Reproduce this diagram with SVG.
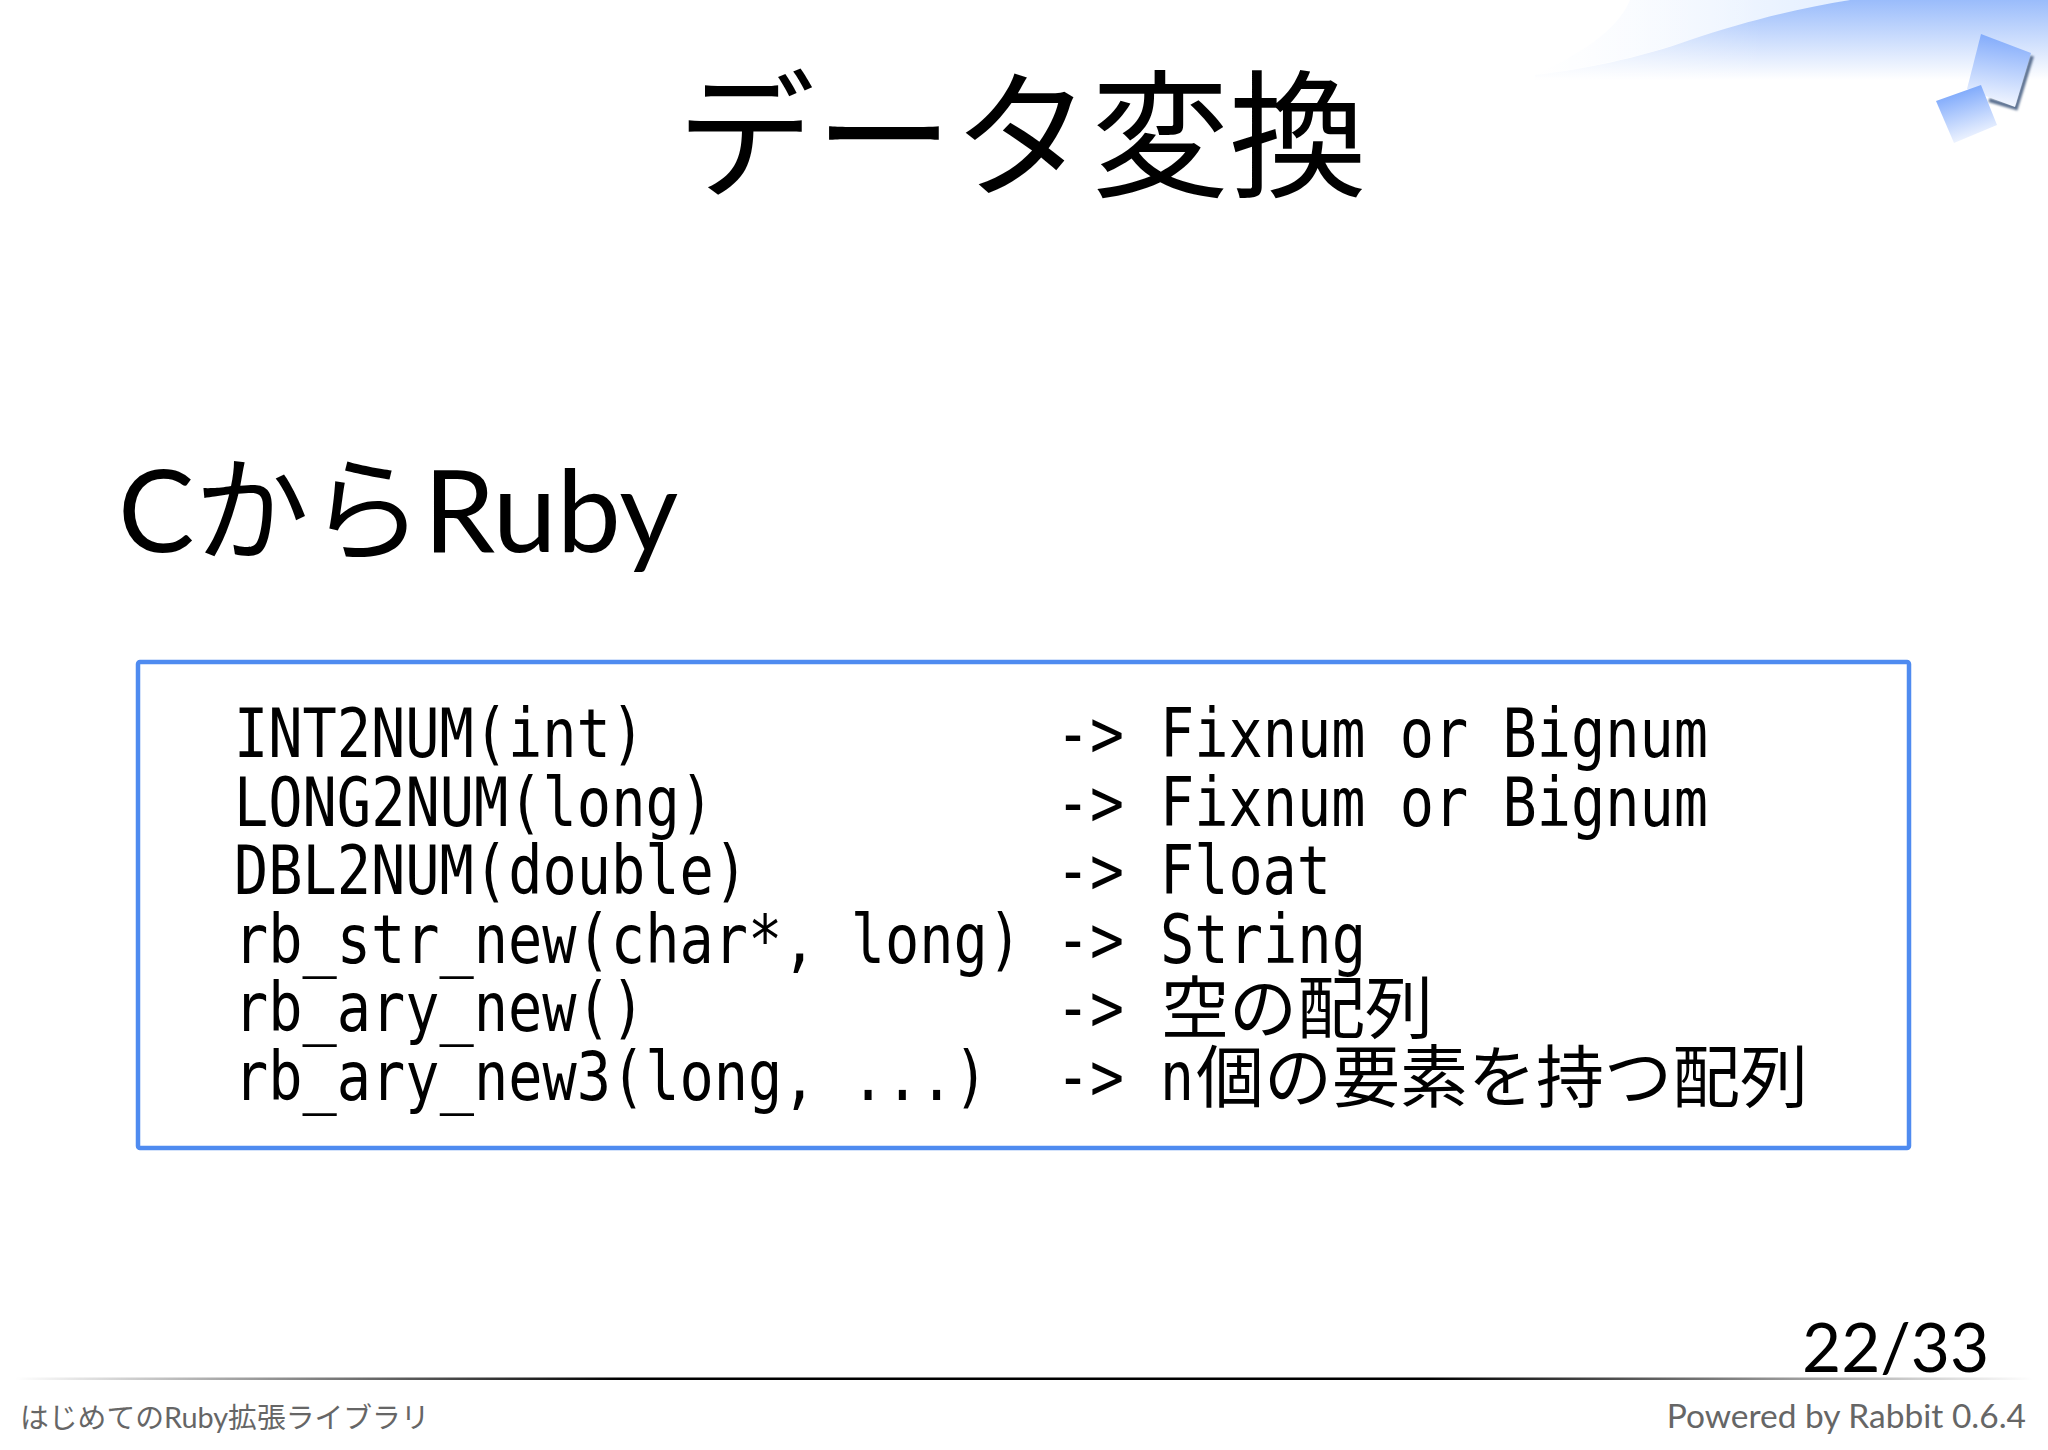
<svg xmlns="http://www.w3.org/2000/svg" width="2048" height="1450" viewBox="0 0 2048 1450">
<style>
.t{font-family:"Noto Sans CJK JP","Noto Sans",sans-serif;fill:#000}
.l{font-family:"Lato","Noto Sans CJK JP",sans-serif;fill:#000}
.c{font-family:"DejaVu Sans Mono","Noto Sans CJK JP",monospace;font-size:68px;fill:#000}
.j{font-family:"Noto Sans CJK JP",sans-serif;font-size:68px;fill:#000}
.f{font-family:"Lato","Noto Sans CJK JP",sans-serif;font-size:28.8px;fill:#666}
.p{font-family:"Lato",sans-serif;font-size:33.5px;fill:#666}
</style>
<defs>
<linearGradient id="sky" x1="0" y1="0" x2="0" y2="1"><stop offset="0" stop-color="#9abcfb"/><stop offset="1" stop-color="#fff"/></linearGradient>
<linearGradient id="fade" x1="0" y1="0" x2="1" y2="0"><stop offset="0" stop-color="#fff" stop-opacity="1"/><stop offset="0.45" stop-color="#fff" stop-opacity="0"/></linearGradient>
<linearGradient id="pale" x1="0" y1="0" x2="1" y2="0"><stop offset="0" stop-color="#fff"/><stop offset="1" stop-color="#e4efff"/></linearGradient>
<linearGradient id="sqa" x1="0.55" y1="0" x2="0.45" y2="1"><stop offset="0" stop-color="#7fa9fb"/><stop offset="1" stop-color="#f6f9ff"/></linearGradient>
<linearGradient id="sqb" x1="0.35" y1="0.05" x2="0.65" y2="1"><stop offset="0" stop-color="#78a5fb"/><stop offset="1" stop-color="#fbfcff"/></linearGradient>
<linearGradient id="rule" x1="0" y1="0" x2="1" y2="0"><stop offset="0" stop-color="#000" stop-opacity="0"/><stop offset="0.3" stop-color="#000"/><stop offset="0.7" stop-color="#000"/><stop offset="1" stop-color="#000" stop-opacity="0"/></linearGradient>
<filter id="b1" x="-20%" y="-20%" width="140%" height="140%"><feGaussianBlur stdDeviation="1.2"/></filter>
</defs>
<rect width="2048" height="1450" fill="#fff"/>
<g id="background">
<path d="M1630 0H1850C1760 18 1700 38 1640 55 1600 65 1570 70 1535 75 1590 50 1620 25 1630 0Z" fill="url(#pale)"/>
<path d="M1535 75C1580 70 1640 58 1690 40 1750 20 1800 8 1850 0H2048V80H1535Z" fill="url(#sky)"/>
<rect x="1530" y="0" width="518" height="80" fill="url(#fade)" opacity="0.6"/>
</g>
<g id="logo">
<path d="M2032 56 2016 108 1989 100" fill="none" stroke="#5a6f90" stroke-width="4" filter="url(#b1)"/>
<polygon points="1981,34 2031,53 2015,107 1967,89" fill="url(#sqa)"/>
<polygon points="1936,101 1981,85 1997,125 1954,143" fill="url(#sqb)"/>
</g>
<text id="title" class="t" x="1022" y="186" font-size="138" text-anchor="middle">データ変換</text>
<text id="heading" class="l" x="118" y="552" font-size="114.5">CからRuby</text>
<rect id="code-box" x="138" y="662" width="1771" height="486" rx="2" fill="#fff" stroke="#4f8bf0" stroke-width="4.5"/>
<g id="code">
<text class="c" x="234" y="757" textLength="411" lengthAdjust="spacingAndGlyphs">INT2NUM(int)</text>
<text class="c" x="234" y="826" textLength="480" lengthAdjust="spacingAndGlyphs">LONG2NUM(long)</text>
<text class="c" x="234" y="894" textLength="514" lengthAdjust="spacingAndGlyphs">DBL2NUM(double)</text>
<text class="c" x="234" y="963" textLength="788" lengthAdjust="spacingAndGlyphs">rb_str_new(char*, long)</text>
<text class="c" x="234" y="1031" textLength="411" lengthAdjust="spacingAndGlyphs">rb_ary_new()</text>
<text class="c" x="234" y="1100" textLength="754" lengthAdjust="spacingAndGlyphs">rb_ary_new3(long, ...)</text>
<text class="c" x="1056" y="757" textLength="68" lengthAdjust="spacingAndGlyphs">-&gt;</text>
<text class="c" x="1056" y="826" textLength="68" lengthAdjust="spacingAndGlyphs">-&gt;</text>
<text class="c" x="1056" y="894" textLength="68" lengthAdjust="spacingAndGlyphs">-&gt;</text>
<text class="c" x="1056" y="963" textLength="68" lengthAdjust="spacingAndGlyphs">-&gt;</text>
<text class="c" x="1056" y="1031" textLength="68" lengthAdjust="spacingAndGlyphs">-&gt;</text>
<text class="c" x="1056" y="1100" textLength="68" lengthAdjust="spacingAndGlyphs">-&gt;</text>
<text class="c" x="1160" y="757" textLength="548" lengthAdjust="spacingAndGlyphs">Fixnum or Bignum</text>
<text class="c" x="1160" y="826" textLength="548" lengthAdjust="spacingAndGlyphs">Fixnum or Bignum</text>
<text class="c" x="1160" y="894" textLength="171" lengthAdjust="spacingAndGlyphs">Float</text>
<text class="c" x="1160" y="963" textLength="206" lengthAdjust="spacingAndGlyphs">String</text>
<text class="j" x="1161" y="1033">空の配列</text>
<text class="c" x="1160" y="1100" textLength="34" lengthAdjust="spacingAndGlyphs">n</text>
<text class="j" x="1196" y="1102">個の要素を持つ配列</text>
</g>
<g id="footer">
<rect x="15" y="1377.5" width="2018" height="2.5" fill="url(#rule)"/>
<text class="l" x="1802" y="1372" font-size="67.5">22/33</text>
<text class="f" x="20" y="1428">はじめてのRuby拡張ライブラリ</text>
<text class="p" x="2026" y="1428" text-anchor="end">Powered by Rabbit 0.6.4</text>
</g>
</svg>
